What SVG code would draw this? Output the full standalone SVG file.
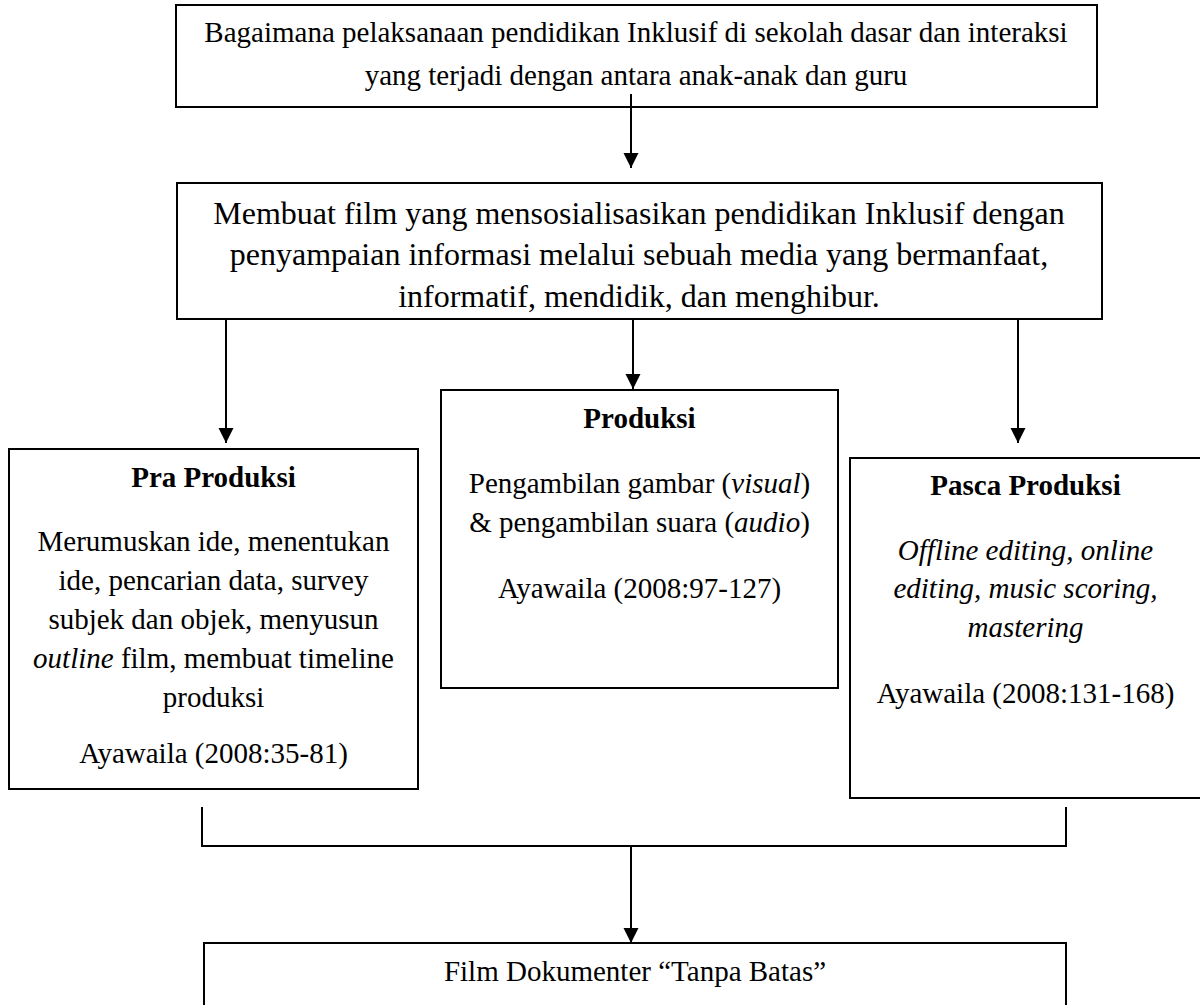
<svg xmlns="http://www.w3.org/2000/svg" width="1200" height="1005" viewBox="0 0 1200 1005">
<style>
.box{fill:#fff;stroke:#000;stroke-width:2}
.t{font-family:"Liberation Serif","Times New Roman",serif;font-size:29px;fill:#000;text-anchor:middle}
.t2{font-size:32px}
.b{font-weight:bold}
.i{font-style:italic}
.c{stroke:#000;stroke-width:2;fill:none}
</style>
<defs>
<marker id="ah" markerUnits="userSpaceOnUse" markerWidth="16" markerHeight="16" viewBox="0 0 16 16" refX="15" refY="7.5" orient="auto">
<path d="M0,0 L15,7.5 L0,15 z" fill="#000"/>
</marker>
</defs>
<g id="n1">
<rect class="box" x="176" y="5" width="921" height="102"/>
<text class="t" x="636" y="42">Bagaimana pelaksanaan pendidikan Inklusif di sekolah dasar dan interaksi</text>
<text class="t" x="636" y="85">yang terjadi dengan antara anak-anak dan guru</text>
</g>
<g id="n2">
<rect class="box" x="177" y="183" width="925" height="136"/>
<text class="t t2" x="639" y="224">Membuat film yang mensosialisasikan pendidikan Inklusif dengan</text>
<text class="t t2" x="639" y="265">penyampaian informasi melalui sebuah media yang bermanfaat,</text>
<text class="t t2" x="639" y="307">informatif, mendidik, dan menghibur.</text>
</g>
<g id="n3">
<rect class="box" x="9" y="449" width="409" height="340"/>
<text class="t b" x="213.5" y="487">Pra Produksi</text>
<text class="t" x="213.5" y="551">Merumuskan ide, menentukan</text>
<text class="t" x="213.5" y="590">ide, pencarian data, survey</text>
<text class="t" x="213.5" y="629">subjek dan objek, menyusun</text>
<text class="t" x="213.5" y="668"><tspan class="i">outline</tspan> film, membuat timeline</text>
<text class="t" x="213.5" y="707">produksi</text>
<text class="t" x="213.5" y="763">Ayawaila (2008:35-81)</text>
</g>
<g id="n4">
<rect class="box" x="441" y="390" width="397" height="298"/>
<text class="t b" x="639.5" y="428">Produksi</text>
<text class="t" x="639.5" y="493">Pengambilan gambar (<tspan class="i">visual</tspan>)</text>
<text class="t" x="639.5" y="532">&amp; pengambilan suara (<tspan class="i">audio</tspan>)</text>
<text class="t" x="639.5" y="598">Ayawaila (2008:97-127)</text>
</g>
<g id="n5">
<rect class="box" x="850" y="458" width="351" height="340"/>
<text class="t b" x="1025.5" y="495">Pasca Produksi</text>
<text class="t i" x="1025.5" y="560">Offline editing, online</text>
<text class="t i" x="1025.5" y="598">editing, music scoring,</text>
<text class="t i" x="1025.5" y="637">mastering</text>
<text class="t" x="1025.5" y="703">Ayawaila (2008:131-168)</text>
</g>
<g id="n6">
<rect class="box" x="204" y="943" width="862" height="80"/>
<text class="t" x="635" y="981">Film Dokumenter “Tanpa Batas”</text>
</g>
<g id="connectors">
<line class="c" x1="631" y1="94" x2="631" y2="168" marker-end="url(#ah)"/>
<line class="c" x1="226" y1="319" x2="226" y2="443" marker-end="url(#ah)"/>
<line class="c" x1="633" y1="319" x2="633" y2="389" marker-end="url(#ah)"/>
<line class="c" x1="1018" y1="319" x2="1018" y2="443" marker-end="url(#ah)"/>
<polyline class="c" points="202,807 202,846 1066,846 1066,807"/>
<line class="c" x1="631" y1="846" x2="631" y2="943" marker-end="url(#ah)"/>
</g>
</svg>
